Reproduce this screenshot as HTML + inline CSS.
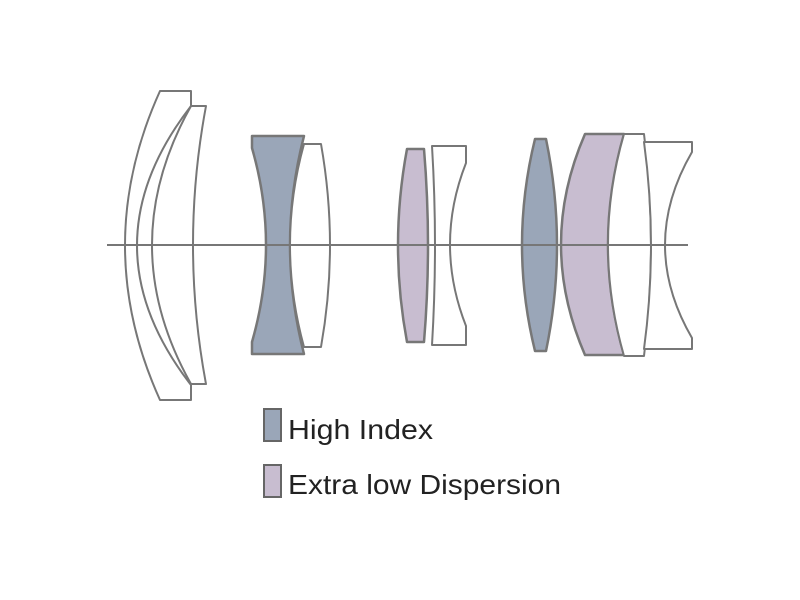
<!DOCTYPE html>
<html><head><style>
body{margin:0;background:#fff;width:800px;height:600px;overflow:hidden}
svg{position:absolute;left:0;top:0}
text{font-family:"Liberation Sans",sans-serif;font-size:28px;fill:#222}
</style></head><body>
<svg width="800" height="600" viewBox="0 0 800 600">
<g stroke="#777" stroke-width="2" stroke-linejoin="round">
<path d="M160,91 L191,91 L191,106 Q83,245.5 191,385 L191,400 L160,400 Q90,245.5 160,91 Z" fill="#fff"/>
<path d="M191,106 L206,106 Q180,245 206,384 L191,384 Q113,245 191,106 Z" fill="#fff"/>
<path d="M252,136 L304,136 Q276,245 304,354 L252,354 L252,342 Q280,245 252,148 Z" fill="#9aa6b8" stroke-width="2.5"/>
<path d="M304,144 L321,144 Q339,245.5 321,347 L304,347 Q276,245 304,144 Z" fill="#fff"/>
<path d="M407,149 L424,149 Q432,245.5 424,342 L407,342 Q389,245.5 407,149 Z" fill="#c8bdd0" stroke-width="2.5"/>
<path d="M432,146 L466,146 L466,163 Q434,244.5 466,326 L466,345 L432,345 Q438,245.5 432,146 Z" fill="#fff"/>
<path d="M535,139 L546,139 Q568,245 546,351 L535,351 Q509,245 535,139 Z" fill="#9aa6b8" stroke-width="2.5"/>
<path d="M585,134 L624,134 Q592,244.5 624,355 L585,355 Q537,244.5 585,134 Z" fill="#c8bdd0" stroke-width="2.5"/>
<path d="M624,134 L644,134 Q658,245 644,356 L624,356 Q592,244.5 624,134 Z" fill="#fff"/>
<path d="M644,142 L692,142 L692,152 Q638,245 692,338 L692,349 L644,349 Q658,245 644,142 Z" fill="#fff"/>
</g>
<line x1="107" y1="245" x2="688" y2="245" stroke="#777" stroke-width="2"/>
<rect x="264" y="409" width="17" height="32" fill="#9aa6b8" stroke="#666" stroke-width="2"/>
<rect x="264" y="465" width="17" height="32" fill="#c8bdd0" stroke="#666" stroke-width="2"/>
<text x="288" y="439" textLength="145" lengthAdjust="spacingAndGlyphs">High Index</text>
<text x="288" y="494" textLength="273" lengthAdjust="spacingAndGlyphs">Extra low Dispersion</text>
</svg>
</body></html>
